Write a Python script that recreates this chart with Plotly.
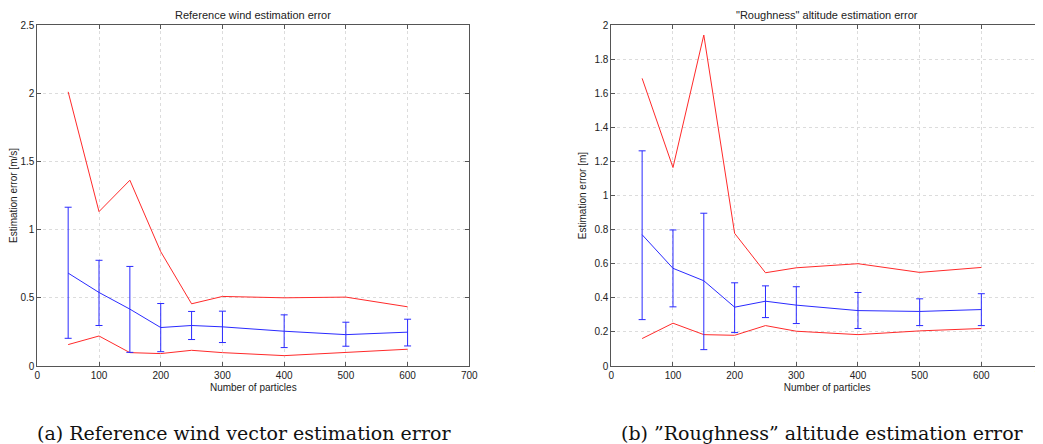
import plotly.graph_objects as go

particles = [50, 100, 150, 200, 250, 300, 400, 500, 600]

# Panel (a): reference wind vector estimation error [m/s]
wind_max = [2.01, 1.132, 1.362, 0.838, 0.456, 0.51, 0.50, 0.505, 0.434]
wind_min = [0.157, 0.22, 0.098, 0.091, 0.115, 0.098, 0.076, 0.10, 0.123]
wind_mean = [0.681, 0.539, 0.417, 0.282, 0.297, 0.287, 0.255, 0.23, 0.248]
wind_err_top = [1.164, 0.775, 0.73, 0.458, 0.40, 0.402, 0.375, 0.321, 0.343]
wind_err_bot = [0.203, 0.297, 0.10, 0.105, 0.194, 0.172, 0.135, 0.145, 0.147]

# Panel (b): "roughness" altitude estimation error [m]
rough_max = [1.687, 1.164, 1.941, 0.778, 0.547, 0.576, 0.60, 0.549, 0.578]
rough_min = [0.161, 0.251, 0.184, 0.18, 0.237, 0.204, 0.184, 0.206, 0.22]
rough_mean = [0.77, 0.573, 0.50, 0.345, 0.38, 0.357, 0.325, 0.32, 0.331]
rough_err_top = [1.262, 0.798, 0.896, 0.488, 0.47, 0.465, 0.431, 0.394, 0.424]
rough_err_bot = [0.272, 0.347, 0.096, 0.196, 0.284, 0.249, 0.22, 0.237, 0.237]

x_ticks = [0, 100, 200, 300, 400, 500, 600, 700]
y_ticks_a = [0, 0.5, 1, 1.5, 2, 2.5]
y_ticks_b = [0, 0.2, 0.4, 0.6, 0.8, 1, 1.2, 1.4, 1.6, 1.8, 2]

RED = "#ff2a2a"
BLUE = "#2a2aff"

fig = go.Figure()


def add_panel(xa, ya, mx, mn, mean, top, bot):
    fig.add_trace(go.Scatter(x=particles, y=mx, mode="lines", xaxis=xa, yaxis=ya,
                             line=dict(color=RED, width=1), showlegend=False))
    fig.add_trace(go.Scatter(x=particles, y=mn, mode="lines", xaxis=xa, yaxis=ya,
                             line=dict(color=RED, width=1), showlegend=False))
    fig.add_trace(go.Scatter(
        x=particles, y=mean, mode="lines", xaxis=xa, yaxis=ya,
        line=dict(color=BLUE, width=1), showlegend=False,
        error_y=dict(type="data", symmetric=False,
                     array=[t - m for t, m in zip(top, mean)],
                     arrayminus=[m - b for m, b in zip(mean, bot)],
                     color=BLUE, thickness=1, width=3.5)))


add_panel("x", "y", wind_max, wind_min, wind_mean, wind_err_top, wind_err_bot)
add_panel("x2", "y2", rough_max, rough_min, rough_mean, rough_err_top, rough_err_bot)

# page body has an 8px offset; figure coordinates are screen - 8
W, H = 1035, 436
TOP, BOT = 17, 357.7
PH = BOT - TOP
axis_common = dict(showline=True, linecolor="#555555", linewidth=1, mirror="ticks",
                   ticks="inside", ticklen=4, tickcolor="#555555",
                   showgrid=True, gridcolor="#dcdcdc", griddash="dot", gridwidth=1,
                   zeroline=False, tickfont=dict(family="Liberation Sans", size=10, color="#222"),
                   title_font=dict(family="Liberation Sans", size=10, color="#222"))

fig.update_layout(
    width=W, height=H,
    margin=dict(l=0, r=0, t=TOP, b=H - BOT, autoexpand=False),
    paper_bgcolor="white", plot_bgcolor="white",
    xaxis=dict(domain=[29.3 / W, 461.3 / W], range=[0, 700], tickvals=x_ticks,
               title=dict(text="Number of particles", standoff=3), anchor="y", **axis_common),
    yaxis=dict(domain=[0, 1], range=[0, 2.5], tickvals=y_ticks_a,
               title=dict(text="Estimation error [m/s]", standoff=5), anchor="x", **axis_common),
    xaxis2=dict(domain=[603.3 / W, 1.0], range=[0, 700], tickvals=x_ticks,
                ticklabeloverflow="allow",
                title=dict(text="Number of particles", standoff=3), anchor="y2", **axis_common),
    yaxis2=dict(domain=[0, 1], range=[0, 2], tickvals=y_ticks_b,
                title=dict(text="Estimation error [m]", standoff=5), anchor="x2", **axis_common),
)

title_font = dict(family="Liberation Sans", size=11, color="#222")
fig.add_annotation(text="Reference wind estimation error", xref="paper", yref="paper",
                   x=(29.3 + 461.3) / 2 / W, y=1, yshift=2, xanchor="center", yanchor="bottom",
                   showarrow=False, font=title_font)
fig.add_annotation(text="\"Roughness\" altitude estimation error", xref="paper", yref="paper",
                   x=(603.3 + 1035.3) / 2 / W, y=1, yshift=2, xanchor="center", yanchor="bottom",
                   showarrow=False, font=title_font)

cap_font = dict(family="DejaVu Serif", size=19, color="#111")
cap_y = (BOT - 425) / PH
fig.add_annotation(text="(a) Reference wind vector estimation error", xref="paper", yref="paper",
                   x=236 / W, y=cap_y, xanchor="center", yanchor="middle",
                   showarrow=False, font=cap_font)
fig.add_annotation(text="(b) \u201dRoughness\u201d altitude estimation error", xref="paper", yref="paper",
                   x=814 / W, y=cap_y, xanchor="center", yanchor="middle",
                   showarrow=False, font=cap_font)

fig.write_html("out.html")
